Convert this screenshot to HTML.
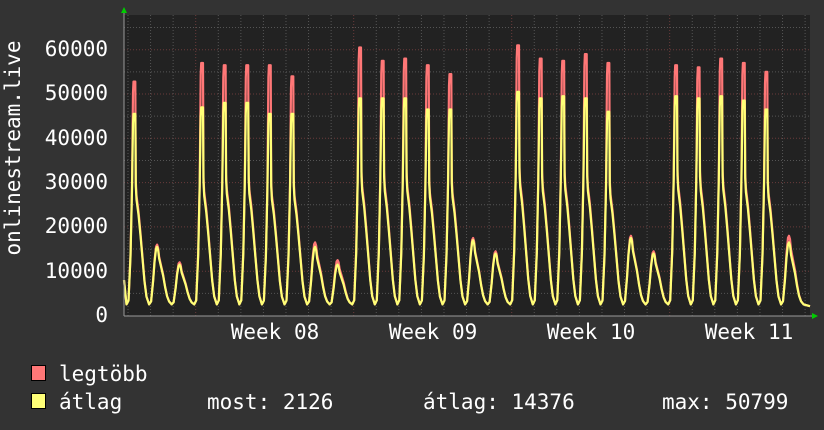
<!DOCTYPE html>
<html><head><meta charset="utf-8"><style>
html,body{margin:0;padding:0;background:#333;}
svg{display:block}
text{font-family:"DejaVu Sans Mono","Liberation Mono",monospace;font-size:21px;fill:#fff;}
</style></head><body>
<svg id="s" width="824" height="430" xmlns="http://www.w3.org/2000/svg">
<rect width="824" height="430" fill="#333"/>
<rect x="124" y="15" width="686" height="301" fill="#222"/>
<g id="grid"></g>
<path id="red" fill="none" stroke="#ff7777" stroke-width="2.2" stroke-linejoin="round"/>
<path id="yel" fill="none" stroke="#ffff77" stroke-width="2.2" stroke-linejoin="round"/>
<line x1="124" y1="316" x2="812" y2="316" stroke="#999" stroke-width="1"/>
<line x1="124" y1="12" x2="124" y2="316" stroke="#999" stroke-width="1"/>
<polygon points="121,13 127,13 124,7" fill="#0c0"/>
<polygon points="812,313 812,319 818,316" fill="#0c0"/>
<g text-anchor="end">
<text x="108" y="56">60000</text><text x="108" y="100">50000</text><text x="108" y="145">40000</text>
<text x="108" y="189">30000</text><text x="108" y="233">20000</text><text x="108" y="278">10000</text>
<text x="108" y="322">0</text>
</g>
<g text-anchor="middle">
<text x="275" y="339">Week 08</text><text x="433" y="339">Week 09</text>
<text x="591" y="339">Week 10</text><text x="749" y="339">Week 11</text>
</g>
<text transform="translate(20,148) rotate(-90)" text-anchor="middle">onlinestream.live</text>
<rect x="31.5" y="365.5" width="14" height="15" fill="#ff7777" stroke="#000"/>
<rect x="31.5" y="393.5" width="14" height="15" fill="#ffff77" stroke="#000"/>
<text x="59" y="381">legtöbb</text>
<text x="59" y="409">átlag</text>
<text x="207" y="409">most: 2126</text>
<text x="423" y="409">átlag: 14376</text>
<text x="662" y="409">max: 50799</text>
</svg>
<script>
var Y=function(v){return 315.5-v*44.3/10000;};
var g=document.getElementById('grid'),h='';
for(var v=5000;v<=65000;v+=5000){var y=Y(v);if(y<15)break;
 h+='<line x1="124" x2="810" y1="'+y+'" y2="'+y+'" stroke="'+(v%10000==0?'#6a3b3b':'#555')+'" stroke-dasharray="1,2"/>';}
for(var k=0;k<31;k++){var x=128+k*22.57;if(x>810)break;
 var maj=Math.abs(((x-195.7)/158)-Math.round((x-195.7)/158))<0.02;
 h+='<line y1="15" y2="316" x1="'+x+'" x2="'+x+'" stroke="'+(maj?'#6a3b3b':'#555')+'" stroke-dasharray="1,2"/>';}
g.innerHTML=h;
var P=[[52800,45500],[16000,15500],[12000,11500],[57000,47000],[56500,48000],[56500,48000],[56500,45500],[54000,45500],[16500,15500],[12500,11500],[60500,49000],[57500,49000],[58000,49000],[56500,46500],[54500,46500],[17500,17000],[14500,14000],[61000,50500],[58000,49000],[57500,49500],[59000,49000],[57000,46000],[18000,17500],[14500,14000],[56500,49500],[56000,49000],[58000,49500],[57000,48500],[55000,46500],[18000,16500]];
var S=[[0,0],[2,0.02],[4,0.25],[5.5,0.6],[6.5,0.95],[7,1],[8.8,1],[9.3,0.62],[10,0.55],[12,0.47],[14,0.36],[16,0.24],[18,0.12],[20,0.04],[22.6,0]];
var Sm=[[0,0],[2,0.05],[4,0.4],[5.5,0.75],[7,0.97],[8,1],[9,0.95],[10,0.8],[12,0.65],[14,0.5],[16,0.3],[18,0.14],[20,0.05],[22.6,0]];
function build(idx){var d='M124,'+Y(8000);var b=2500;
 for(var i=0;i<P.length;i++){var x0=126.5+i*22.57;var pk=P[i][idx];var small=P[i][0]<25000;var sh=small?Sm:S;
  for(var j=0;j<sh.length;j++){var f=sh[j][1];var v;
   if(idx==0&&!small){var a=P[i][1];v=b+(f>0.9?(pk-b)*f:(a-b)*f*1.04);}else v=b+(pk-b)*f;
   d+=' L'+(x0+sh[j][0]).toFixed(1)+','+Y(v).toFixed(1);}}
 d+=' L810,'+Y(2100);return d;}
document.getElementById('red').setAttribute('d',build(0));
document.getElementById('yel').setAttribute('d',build(1));
</script>
</body></html>
